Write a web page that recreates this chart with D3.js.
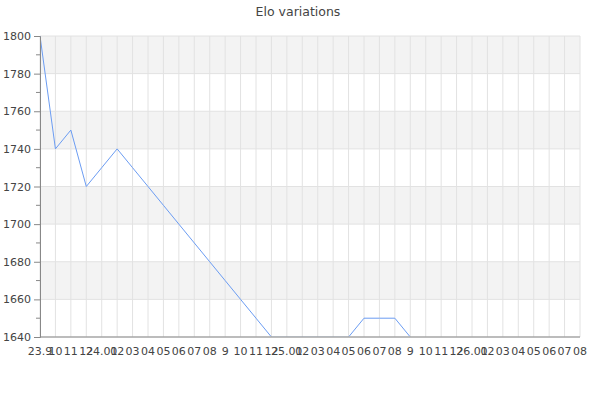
<!DOCTYPE html>
<html>
<head>
<meta charset="utf-8">
<script src="https://cdn.jsdelivr.net/npm/d3@7"></script>
<style>
body { margin: 0; background: #fff; }
svg text { font-family: "DejaVu Sans", sans-serif; fill: #444; }
</style>
</head>
<body>
<div id="plot"></div>
<script>
// data
var months = ["2023-09", "2023-10", "2023-11", "2023-12", "2024-01", "2024-02", "2024-03", "2024-04",
    "2024-05", "2024-06", "2024-07", "2024-08", "2024-09", "2024-10", "2024-11", "2024-12",
    "2025-01", "2025-02", "2025-03", "2025-04", "2025-05", "2025-06", "2025-07", "2025-08", "2025-09"]
var elo = [1800, 1740, 1750, 1720, 1730, 1740, 1730, 1720, 1710, 1700, 1690, 1680, 1670, 1660, 1650, 1640,
    1640, 1640, 1640, 1640, 1640, 1650, 1650, 1650, 1640]
var tickLabels = ["23.9", "10", "11", "12", "24.01", "02", "03", "04", "05", "06", "07", "08", "9", "10", "11", "12",
    "25.01", "02", "03", "04", "05", "06", "07", "08", "9", "10", "11", "12",
    "26.01", "02", "03", "04", "05", "06", "07", "08"]
var yTicks = [1640, 1660, 1680, 1700, 1720, 1740, 1760, 1780, 1800]

var parse = d3.timeParse("%Y-%m")
var points = months.map(function (m, i) { return {date: parse(m), elo: elo[i]} })

var margin = {top: 36, right: 20, bottom: 63, left: 40}
var width = 600 - margin.left - margin.right
var height = 400 - margin.top - margin.bottom

var svg = d3.select("#plot").append("svg")
    .attr("width", 600)
    .attr("height", 400)

svg.append("text")
    .attr("x", 298)
    .attr("y", 16)
    .attr("text-anchor", "middle")
    .style("font-size", "12.5px")
    .text("Elo variations")

var g = svg.append("g").attr("transform", "translate(" + margin.left + "," + margin.top + ")")

var y = d3.scaleLinear().domain([1640, 1800]).range([height, 0])

var tickDates = d3.timeMonth.range(parse("2023-09"), parse("2026-09"))
// months are not equal length; place ticks evenly like the original
var xi = d3.scaleLinear().domain([0, tickDates.length - 1]).range([0, width])
function px(d) {
    var i = d3.timeMonth.count(parse("2023-09"), d)
    return xi(i)
}

// alternating bands
for (var k = 0; k < yTicks.length - 1; k++) {
    if (k % 2 == 1) {
        g.append("rect")
            .attr("x", 0)
            .attr("y", y(yTicks[k + 1]))
            .attr("width", width)
            .attr("height", y(yTicks[k]) - y(yTicks[k + 1]))
            .attr("fill", "#f3f3f3")
    }
}

// grid
g.selectAll(".hgrid")
    .data(yTicks)
    .enter().append("line")
    .attr("x1", 0).attr("x2", width)
    .attr("y1", function (d) { return y(d) })
    .attr("y2", function (d) { return y(d) })
    .attr("stroke", "#e2e2e2")
g.selectAll(".vgrid")
    .data(tickDates)
    .enter().append("line")
    .attr("x1", px).attr("x2", px)
    .attr("y1", 0).attr("y2", height)
    .attr("stroke", "#e2e2e2")

// line (clipped just above the bottom axis)
svg.append("clipPath").attr("id", "clip")
    .append("rect").attr("y", -1).attr("width", width).attr("height", height + 0.3)
g.append("path")
    .datum(points)
    .attr("clip-path", "url(#clip)")
    .attr("fill", "none")
    .attr("stroke", "#6b9cf2")
    .attr("stroke-width", 1)
    .attr("d", d3.line().x(function (d) { return px(d.date) }).y(function (d) { return y(d.elo) }))

// y axis with minor ticks
var minor = d3.range(1650, 1800, 20)
g.selectAll(".minor")
    .data(minor)
    .enter().append("line")
    .attr("x1", -4).attr("x2", 0)
    .attr("y1", function (d) { return y(d) })
    .attr("y2", function (d) { return y(d) })
    .attr("stroke", "#888")
var ya = g.append("g")
    .call(d3.axisLeft(y).tickValues(yTicks).tickSize(6).tickPadding(3).tickFormat(d3.format("d")))
ya.select(".domain").attr("stroke", "#888")
ya.selectAll(".tick line").attr("stroke", "#888")
ya.selectAll(".tick text").style("font-size", "11px").attr("fill", "#444").style("font-family", "DejaVu Sans")

// x axis
var xa = g.append("g")
    .attr("transform", "translate(0," + height + ")")
xa.append("line").attr("x1", 0).attr("x2", width).attr("stroke", "#888").attr("stroke-width", 1.2)
xa.selectAll(".xl")
    .data(tickDates)
    .enter().append("text")
    .attr("x", px)
    .attr("y", 18)
    .attr("text-anchor", "middle")
    .style("font-size", "11px")
    .text(function (d, i) { return tickLabels[i] })
</script>
</body>
</html>
